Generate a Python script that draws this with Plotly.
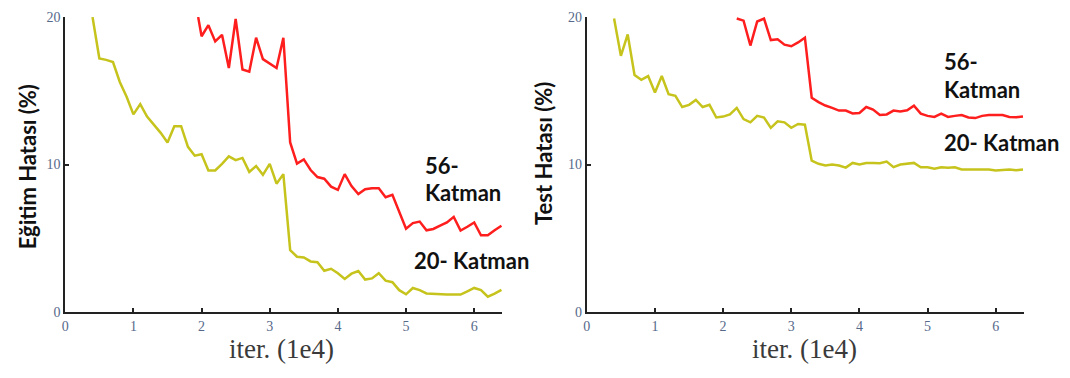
import plotly.graph_objects as go

# ---------------- data ----------------
# Left panel: training error (%)
train20_x = [round(0.4 + 0.1 * i, 1) for i in range(61)]
train20_y = [20.0, 17.2, 17.1, 16.95, 15.6, 14.6, 13.4, 14.1, 13.25, 12.7,
             12.15, 11.5, 12.6, 12.6, 11.2, 10.6, 10.7, 9.6, 9.6, 10.05,
             10.55, 10.3, 10.45, 9.5, 9.9, 9.3, 10.05, 8.7, 9.35, 4.2,
             3.75, 3.7, 3.43, 3.38, 2.8, 2.93, 2.63, 2.24, 2.6, 2.78,
             2.2, 2.28, 2.63, 2.13, 2.02, 1.48, 1.2, 1.63, 1.48, 1.26,
             1.22, 1.22, 1.18, 1.18, 1.18, 1.4, 1.63, 1.48, 1.04, 1.25, 1.5]

train56_x = [1.95] + [round(2.0 + 0.1 * i, 1) for i in range(45)]
train56_y = [20.0, 18.7, 19.45, 18.35, 18.8, 16.55, 19.87, 16.45, 16.3, 18.6,
             17.15, 16.85, 16.55, 18.6, 11.5, 10.06, 10.35, 9.63, 9.15, 9.04,
             8.5, 8.28, 9.35, 8.54, 8.0, 8.32, 8.39, 8.39, 7.78, 7.95,
             6.8, 5.65, 6.03, 6.13, 5.54, 5.63, 5.85, 6.07, 6.45, 5.52,
             5.78, 6.07, 5.2, 5.2, 5.55, 5.85]

# Right panel: test error (%)
test20_x = [round(0.4 + 0.1 * i, 1) for i in range(61)]
test20_y = [19.9, 17.37, 18.83, 16.07, 15.75, 16.0, 14.88, 16.0, 14.77, 14.66,
            13.9, 14.05, 14.38, 13.9, 14.05, 13.19, 13.25, 13.4, 13.84, 13.08,
            12.86, 13.3, 13.19, 12.49, 12.93, 12.86, 12.49, 12.75, 12.7, 10.26,
            10.05, 9.93, 10.0, 9.93, 9.79, 10.11, 10.0, 10.11, 10.11, 10.09,
            10.2, 9.82, 10.0, 10.04, 10.11, 9.82, 9.82, 9.72, 9.82, 9.79,
            9.82, 9.67, 9.67, 9.65, 9.65, 9.67, 9.6, 9.65, 9.67, 9.62, 9.67]

test56_x = [round(2.2 + 0.1 * i, 1) for i in range(43)]
test56_y = [19.9, 19.76, 18.07, 19.7, 19.9, 18.44, 18.5, 18.13, 18.02, 18.28,
            18.6, 14.53, 14.23, 14.0, 13.84, 13.66, 13.66, 13.47, 13.5, 13.9,
            13.73, 13.36, 13.4, 13.66, 13.6, 13.68, 13.99, 13.45, 13.3, 13.23,
            13.45, 13.23, 13.3, 13.36, 13.19, 13.15, 13.3, 13.36, 13.36, 13.36,
            13.23, 13.2, 13.26]

x_ticks = [0, 1, 2, 3, 4, 5, 6]
y_ticks = [0, 10, 20]
x_title = "iter. (1e4)"
left_title = "Eğitim Hatası (%)"
right_title = "Test Hatası (%)"
label56 = ["56-", "Katman"]
label20 = "20- Katman"

# ---------------- style ----------------
W, H = 1070, 378
YELLOW = "#c6c41c"
RED = "#ff1e1e"
LW = 2.5
TICKFONT = dict(family="Liberation Serif", size=14, color="#56698a")
LABELFONT = dict(family="Lato", size=22, color="#111111", weight="bold")
TITLEFONT = dict(family="Lato", size=22, color="#111111", weight="bold")


def px(x):
    return x / W


def py(y):
    return 1 - y / H


fig = go.Figure()
fig.add_trace(go.Scatter(x=train20_x, y=train20_y, mode="lines",
                         line=dict(color=YELLOW, width=LW), xaxis="x", yaxis="y"))
fig.add_trace(go.Scatter(x=train56_x, y=train56_y, mode="lines",
                         line=dict(color=RED, width=LW), xaxis="x", yaxis="y"))
fig.add_trace(go.Scatter(x=test20_x, y=test20_y, mode="lines",
                         line=dict(color=YELLOW, width=LW), xaxis="x2", yaxis="y2"))
fig.add_trace(go.Scatter(x=test56_x, y=test56_y, mode="lines",
                         line=dict(color=RED, width=LW), xaxis="x2", yaxis="y2"))

xr = [0, 6.41]
ydom = [py(317.6), py(10.5)]
common_x = dict(range=xr, tickvals=x_ticks, ticks="inside", ticklen=4,
                tickwidth=1.5, tickcolor="#222", showline=True, linecolor="#222",
                linewidth=2, showgrid=False, zeroline=False, tickfont=TICKFONT,
                fixedrange=True)
common_y = dict(range=[0, 20], tickvals=y_ticks, ticks="inside", ticklen=4,
                tickwidth=1.5, tickcolor="#222", showline=True, linecolor="#222",
                linewidth=2, showgrid=False, zeroline=False, tickfont=TICKFONT,
                fixedrange=True)

fig.update_layout(
    width=W, height=H, margin=dict(l=0, r=0, t=0, b=0),
    paper_bgcolor="white", plot_bgcolor="white", showlegend=False,
    xaxis=dict(domain=[px(61.5), px(500)], anchor="y", **common_x),
    yaxis=dict(domain=ydom, anchor="x", **common_y),
    xaxis2=dict(domain=[px(585), px(1023.5)], anchor="y2", **common_x),
    yaxis2=dict(domain=ydom, anchor="x2", **common_y),
)

ann = []
# x-axis titles
for cx in (279, 804):
    ann.append(dict(text=x_title, x=px(cx), y=py(356), xref="paper", yref="paper",
                    xanchor="center", yanchor="middle", showarrow=False, borderpad=0,
                    font=dict(family="Liberation Serif", size=27, color="#3a3a3a")))
# y-axis titles
ann.append(dict(text=left_title, x=px(24), y=py(166), xref="paper", yref="paper",
                xanchor="center", yanchor="middle", showarrow=False, textangle=-90,
                font=TITLEFONT))
ann.append(dict(text=right_title, x=px(542), y=py(152), xref="paper", yref="paper",
                xanchor="center", yanchor="middle", showarrow=False, textangle=-90,
                font=TITLEFONT))

# series labels: left panel
ann.append(dict(text=label56[0], x=px(421), y=py(165), xref="paper", yref="paper",
                xanchor="left", yanchor="middle", showarrow=False, font=LABELFONT))
ann.append(dict(text=label56[1], x=px(421), y=py(193.5), xref="paper", yref="paper",
                xanchor="left", yanchor="middle", showarrow=False, font=LABELFONT))
ann.append(dict(text=label20, x=px(410), y=py(263.5), xref="paper", yref="paper",
                xanchor="left", yanchor="middle", showarrow=False, font=LABELFONT))
# series labels: right panel
ann.append(dict(text=label56[0], x=px(942), y=py(56.5), xref="paper", yref="paper",
                xanchor="left", yanchor="middle", showarrow=False, font=LABELFONT))
ann.append(dict(text=label56[1], x=px(942), y=py(85.5), xref="paper", yref="paper",
                xanchor="left", yanchor="middle", showarrow=False, font=LABELFONT))
ann.append(dict(text=label20, x=px(942), y=py(141.5), xref="paper", yref="paper",
                xanchor="left", yanchor="middle", showarrow=False, font=LABELFONT))

fig.update_layout(annotations=ann)
fig.write_html("out.html")
